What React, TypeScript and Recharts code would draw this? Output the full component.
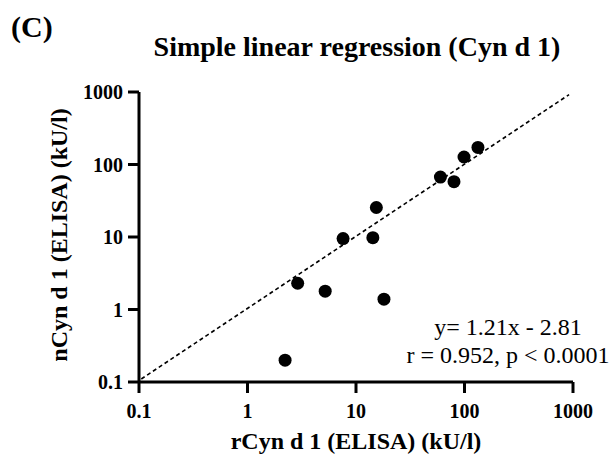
import React from 'react'
import { ScatterChart, Scatter, XAxis, YAxis, Label } from 'recharts'

// rCyn d 1 (x) vs nCyn d 1 (y), kU/l
const rCyn = [133, 99, 60, 80, 15.4, 7.6, 14.3, 2.9, 5.2, 18.1, 2.22]
const nCyn = [172, 127, 67, 58, 25.5, 9.5, 9.8, 2.3, 1.79, 1.39, 0.2]

// dashed fit line end points
const fitX = [0.105, 920]
const fitY = [0.11, 920]

const logTicks = [0.1, 1, 10, 100, 1000]

const points = rCyn.map((x, i) => ({ x, y: nCyn[i] }))
const fitLine = fitX.map((x, i) => ({ x, y: fitY[i] }))

const font = 'Liberation Serif'

const Dot = (props: any) => <circle cx={props.cx} cy={props.cy} r={6.5} fill="#000" />

const XTick = (props: any) => (
  <text x={props.x} y={props.y} dy={15} textAnchor="middle" fill="#000" fontSize={20} fontWeight="bold" fontFamily={font}>
    {props.payload.value}
  </text>
)

const YTick = (props: any) => (
  <text x={props.x} y={props.y} dy={7} textAnchor="end" fill="#000" fontSize={20} fontWeight="bold" fontFamily={font}>
    {props.payload.value}
  </text>
)

const axisLine = { stroke: '#000', strokeWidth: 3 }

export default function App() {
  return (
    <div style={{ position: 'absolute', left: 0, top: 0, width: 613, height: 461, background: '#fff', fontFamily: font }}>
      <ScatterChart width={613} height={461} margin={{ top: 92, right: 40, bottom: 0, left: 0 }}>
        <XAxis
          type="number"
          dataKey="x"
          scale="log"
          domain={[0.1, 1000]}
          ticks={logTicks}
          allowDataOverflow
          height={79}
          axisLine={axisLine}
          tickLine={axisLine}
          tickSize={11}
          tickMargin={10}
          tick={<XTick />}
        >
          <Label
            value="rCyn d 1 (ELISA) (kU/l)"
            position="insideBottom"
            offset={12}
            style={{ fill: '#000', fontSize: 24, fontWeight: 'bold', fontFamily: font }}
          />
        </XAxis>
        <YAxis
          type="number"
          dataKey="y"
          scale="log"
          domain={[0.1, 1000]}
          ticks={logTicks}
          allowDataOverflow
          width={139}
          axisLine={axisLine}
          tickLine={axisLine}
          tickSize={11}
          tickMargin={5}
          tick={<YTick />}
        >
          <Label
            content={() => (
              <text
                x={67}
                y={235}
                transform="rotate(-90 67 235)"
                textAnchor="middle"
                fill="#000"
                fontSize={24}
                fontWeight="bold"
                fontFamily={font}
              >
                nCyn d 1 (ELISA) (kU/l)
              </text>
            )}
          />
        </YAxis>
        <Scatter
          data={fitLine}
          line={{ stroke: '#000', strokeWidth: 1.6, strokeDasharray: '4 3' }}
          shape={() => null}
          isAnimationActive={false}
        />
        <Scatter data={points} shape={Dot} isAnimationActive={false} />
      </ScatterChart>
      <svg width={613} height={461} style={{ position: 'absolute', left: 0, top: 0, pointerEvents: 'none' }}>
        <text x={11} y={37} fontSize={30} fontWeight="bold" fontFamily={font} fill="#000">(C)</text>
        <text x={357} y={56} textAnchor="middle" fontSize={28} fontWeight="bold" fontFamily={font} fill="#000">
          Simple linear regression (Cyn d 1)
        </text>
        <text x={508} y={335} textAnchor="middle" fontSize={24} fontFamily={font} fill="#000">y= 1.21x - 2.81</text>
        <text x={508} y={363} textAnchor="middle" fontSize={24} fontFamily={font} fill="#000">r = 0.952, p &lt; 0.0001</text>
      </svg>
    </div>
  )
}
